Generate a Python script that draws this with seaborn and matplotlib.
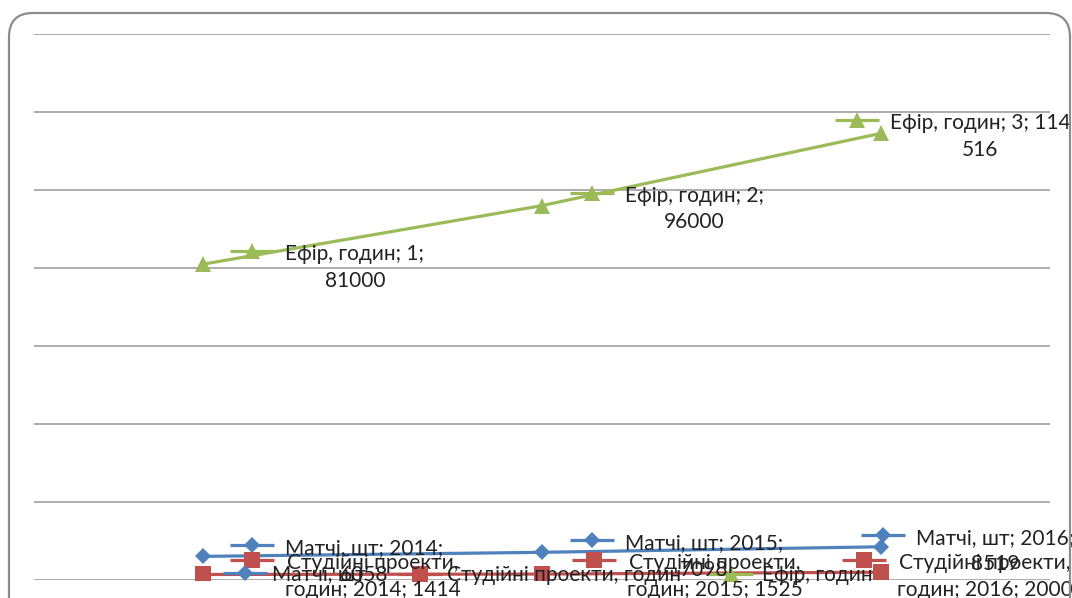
import textwrap

import matplotlib
matplotlib.use("Agg")
import matplotlib.pyplot as plt
import matplotlib.transforms as mtransforms
from matplotlib.patches import FancyBboxPatch
import numpy as np
import pandas as pd
import seaborn as sns

# ---- data -------------------------------------------------------------
years = ["2014", "2015", "2016"]
air_points = ["1", "2", "3"]
matches = [6058, 7098, 8519]        # Матчі, шт
studio = [1414, 1525, 2000]         # Студійні проекти, годин
air = [81000, 96000, 114516]        # Ефір, годин

series_names = ["Матчі, шт", "Студійні проекти, годин", "Ефір, годин"]
colors = ["#4F81BD", "#C0504D", "#9BBB59"]
markers = ["D", "s", "^"]
marker_sizes = [8, 11, 11]

# ---- figure -----------------------------------------------------------
sns.set_theme(style="white")
plt.rcParams["font.family"] = ["Lato", "DejaVu Sans"]

W, H, DPI = 1072, 598, 100
fig = plt.figure(figsize=(W / DPI, H / DPI), dpi=DPI)
ax = fig.add_axes([34 / W, 1 - 580 / H, (1050 - 34) / W, (580 - 34) / H])

rows = []
for name, vals in zip(series_names, [matches, studio, air]):
    for i, v in enumerate(vals):
        rows.append({"pos": i, "value": v, "series": name})
df = pd.DataFrame(rows)

sns.lineplot(
    data=df, x="pos", y="value", hue="series", style="series",
    hue_order=series_names, style_order=series_names,
    palette=dict(zip(series_names, colors)),
    markers=dict(zip(series_names, markers)), dashes=False,
    markersize=10, markeredgewidth=0, linewidth=2.3,
    legend=False, ax=ax, zorder=3,
)
# per-series marker sizes
for line, ms in zip(ax.get_lines(), marker_sizes):
    line.set_markersize(ms)

ax.set_xlim(-0.5, len(years) - 0.5)
ax.set_ylim(0, 140000)
ax.set_yticks(np.arange(0, 140001, 20000))
ax.grid(axis="y", color="#A6A6A6", linewidth=1.3)
ax.grid(axis="x", visible=False)
ax.tick_params(left=False, bottom=False, labelleft=False, labelbottom=False)
for s in ax.spines.values():
    s.set_visible(False)
ax.set_xlabel("")
ax.set_ylabel("")

TEXT_KW = dict(fontsize=15, color="#222222", linespacing=1.42,
               ha="left", va="top", multialignment="center",
               textcoords="offset pixels", annotation_clip=False, zorder=6)


def legend_key(x, y, dx, dy, color, marker, ms):
    """Small line-and-marker key drawn next to a data label."""
    tr = mtransforms.offset_copy(ax.transData, fig=fig, x=dx, y=dy, units="dots")
    ax.plot([x], [y], marker="_", ms=32, mew=2.3, color=color,
            transform=tr, clip_on=False, zorder=5)
    ax.plot([x], [y], marker=marker, ms=ms, mew=0, color=color,
            transform=tr, clip_on=False, zorder=5)


def data_label(x, y, text, key_dx, key_dy, color, marker, ms, gap=33):
    legend_key(x, y, key_dx, key_dy, color, marker, ms)
    ax.annotate(text, xy=(x, y), xytext=(key_dx + gap, key_dy + 7), **TEXT_KW)


# key offsets (pixels) of each point's label, relative to the point
offsets = {
    "Матчі, шт": [(49, 11), (50, 12), (2, 12)],
    "Студійні проекти, годин": [(49, 14), (52, 14), (-17, 12)],
    "Ефір, годин": [(49, 13), (50, 13), (-24, 13)],
}

for name, vals, col, mk, ms in zip(series_names, [matches, studio, air],
                                   colors, markers, marker_sizes):
    for i, v in enumerate(vals):
        if name == "Ефір, годин":
            cat = air_points[i]
            val = f"{v:,}".replace(",", " ") if v >= 100000 else str(v)
        else:
            cat = years[i]
            val = str(v)
        text = textwrap.fill(f"{name}; {cat}; {val}", width=19)
        dx, dy = offsets[name][i]
        data_label(i, v, text, dx, dy, col, mk, ms)

# series-name labels along the baseline
name_labels = [
    ("Матчі, шт", 0, 42, 7, 27),
    ("Студійні проекти, годин", 0, 217, 6, 27),
    ("Ефір, годин", 1, 189, 6, 31),
]
for (label, cat, dx, dy, gap), col, mk, ms in zip(name_labels, colors, markers, marker_sizes):
    legend_key(cat, 0, dx, dy, col, mk, ms)
    ax.annotate(label, xy=(cat, 0), xytext=(dx + gap, dy + 9), **TEXT_KW)

# rounded frame around the chart area
frame = FancyBboxPatch((9, -40), 1061, H - 13 + 40,
                       boxstyle="round,pad=0,rounding_size=24",
                       transform=mtransforms.IdentityTransform(),
                       facecolor="none", edgecolor="#8C8C8C", linewidth=1.6,
                       clip_on=False, zorder=10)
fig.add_artist(frame)

fig.savefig("out.png", dpi=DPI)
